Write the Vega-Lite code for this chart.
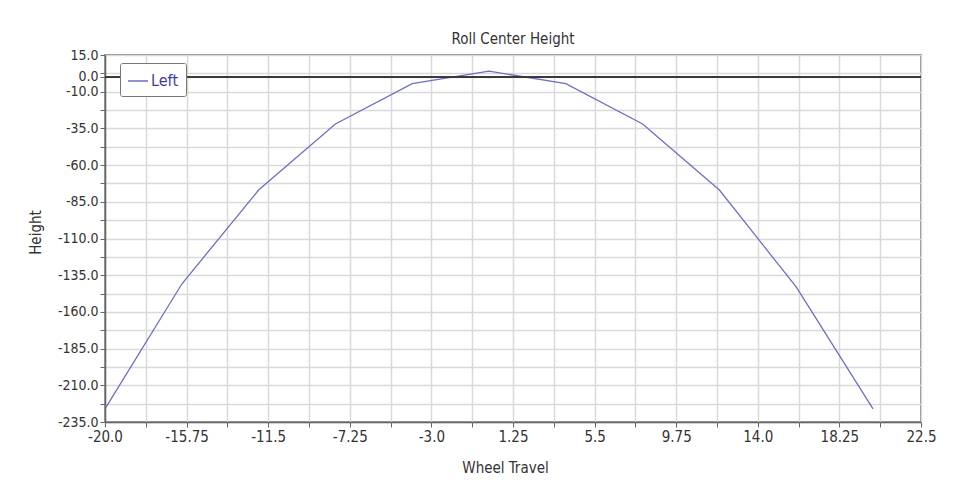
{
  "$schema": "https://vega.github.io/schema/vega-lite/v6.json",
  "width": 816,
  "height": 367,
  "autosize": {"type": "none"},
  "padding": {"left": 105, "top": 55, "right": 41, "bottom": 62},
  "background": "white",
  "config": {
    "font": "Liberation Sans Narrow, Arial Narrow, DejaVu Sans Condensed, sans-serif",
    "view": {"stroke": "#666", "strokeWidth": 1.5}
  },
  "title": {
    "text": "Roll Center Height",
    "fontSize": 15,
    "fontWeight": "normal",
    "color": "#333",
    "offset": 1,
    "anchor": "middle"
  },
  "data": {
    "values": [
      {"travel": -20, "height": -226, "series": "Left"},
      {"travel": -16, "height": -141, "series": "Left"},
      {"travel": -12, "height": -77, "series": "Left"},
      {"travel": -8, "height": -32, "series": "Left"},
      {"travel": -4, "height": -4.5, "series": "Left"},
      {"travel": 0, "height": 4, "series": "Left"},
      {"travel": 4, "height": -4.5, "series": "Left"},
      {"travel": 8, "height": -32, "series": "Left"},
      {"travel": 12, "height": -77, "series": "Left"},
      {"travel": 16, "height": -143, "series": "Left"},
      {"travel": 20, "height": -226, "series": "Left"}
    ]
  },
  "layer": [
    {
      "mark": {"type": "line", "strokeWidth": 1.3},
      "encoding": {
        "x": {
          "field": "travel",
          "type": "quantitative",
          "scale": {"domain": [-20, 22.5], "nice": false, "zero": false},
          "axis": {
            "title": "Wheel Travel",
            "titleFontSize": 15,
            "titleFontWeight": "normal",
            "titleColor": "#333",
            "titleX": 400,
            "titleY": 45,
            "titleAlign": "center",
            "titleBaseline": "middle",
            "tickCount": 50,
            "values": [-20, -17.875, -15.75, -13.625, -11.5, -9.375, -7.25, -5.125, -3, -0.875, 1.25, 3.375, 5.5, 7.625, 9.75, 11.875, 14, 16.125, 18.25, 20.375, 22.5],
            "labelExpr": "abs((datum.value + 20) / 4.25 - round((datum.value + 20) / 4.25)) < 0.001 ? replace(datum.value % 1 == 0 ? format(datum.value, '.1f') : format(datum.value, ''), '\u2212', '-') : ''",
            "labelFontSize": 15,
            "labelColor": "#333",
            "labelOverlap": false,
            "labelFlush": false,
            "labelBound": false,
            "labelPadding": 2,
            "tickSize": 5,
            "tickColor": "#666",
            "domainColor": "#666",
            "domainWidth": 1.5,
            "grid": true,
            "gridColor": "#d9d9d9",
            "gridWidth": 1.5
          }
        },
        "y": {
          "field": "height",
          "type": "quantitative",
          "scale": {"domain": [-235, 15], "nice": false, "zero": false},
          "axis": {
            "title": "Height",
            "titleFontSize": 15,
            "titleFontWeight": "normal",
            "titleColor": "#333",
            "titleX": -70,
            "titleY": 177,
            "titleAngle": -90,
            "titleAlign": "center",
            "titleBaseline": "middle",
            "tickCount": 50,
            "values": [-235, -222.5, -210, -197.5, -185, -172.5, -160, -147.5, -135, -122.5, -110, -97.5, -85, -72.5, -60, -47.5, -35, -22.5, -10, 0, 2.5, 15],
            "labelExpr": "(datum.value == 0 || abs((datum.value + 235) / 25 - round((datum.value + 235) / 25)) < 0.001) ? replace(format(datum.value, '.1f'), '\u2212', '-') : ''",
            "labelFontSize": 14,
            "labelColor": "#333",
            "labelOffset": {"condition": {"test": "datum.value == 0", "value": -1}, "value": 0},
            "labelOverlap": false,
            "labelFlush": false,
            "labelBound": false,
            "labelPadding": 2,
            "tickSize": 5,
            "tickColor": "#666",
            "domainColor": "#666",
            "domainWidth": 1.5,
            "grid": true,
            "gridColor": "#d9d9d9",
            "gridWidth": 1.5
          }
        },
        "color": {
          "field": "series",
          "type": "nominal",
          "scale": {"range": ["#6e6ec4"]},
          "legend": {
            "title": null,
            "orient": "none",
            "legendX": 15,
            "legendY": 8,
            "symbolType": "stroke",
            "symbolSize": 400,
            "symbolStrokeWidth": 1.5,
            "labelFontSize": 16,
            "labelColor": "#3c3ca6",
            "labelOffset": 2,
            "padding": 7,
            "strokeColor": "#777",
            "fillColor": "white",
            "cornerRadius": 2,
            "zindex": 2
          }
        }
      }
    },
    {
      "mark": {"type": "rule", "color": "#3a3a3a", "strokeWidth": 2},
      "encoding": {"y": {"datum": 0, "type": "quantitative"}}
    }
  ]
}
